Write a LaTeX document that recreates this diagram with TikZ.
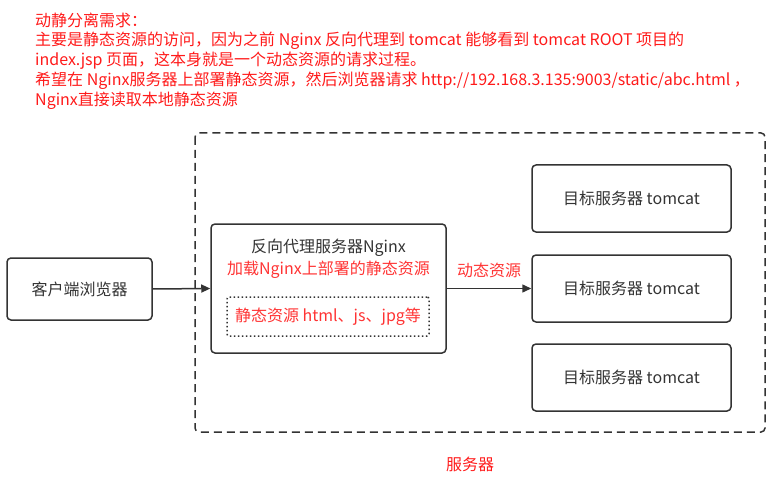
\documentclass[tikz,border=0pt]{standalone}
\usepackage{fontspec}
\setmainfont{Noto Sans CJK SC}
\usetikzlibrary{arrows.meta}
\definecolor{tred}{HTML}{FF1A1A}
\definecolor{bred}{HTML}{FF3333}
\definecolor{dgray}{HTML}{333333}
\tikzset{
  box/.style={draw=dgray, line width=1.5pt, rounded corners=4pt},
  rtext/.style={text=bred, font=\fontsize{16}{18}\selectfont, inner sep=0pt},
  gtext/.style={text=dgray, font=\fontsize{16}{18}\selectfont, inner sep=0pt},
  toptext/.style={text=tred, font=\fontsize{16}{18}\selectfont, anchor=west, inner sep=0pt},
  conn/.style={draw=dgray, line width=1.5pt, -{Triangle[length=9pt,width=8pt]}}
}
\begin{document}
\begin{tikzpicture}[x=1pt,y=-1pt]
\useasboundingbox (0,0) rectangle (775,478);
% top text
\node[toptext] (t1) at (35,20) {动静分离需求：};
\node[toptext] (t2) at (35,41) {主要是静态资源的访问，因为之前 Nginx 反向代理到 tomcat 能够看到 tomcat ROOT 项目的};
\node[toptext] (t3) at (35,61) {index.jsp 页面，这本身就是一个动态资源的请求过程。};
\node[toptext] (t4) at (35,81) {希望在 Nginx服务器上部署静态资源，然后浏览器请求 http://192.168.3.135:9003/static/abc.html ，};
\node[toptext] (t5) at (35,101) {Nginx直接读取本地静态资源};
% outer dashed server area
\draw[draw=dgray, line width=1.5pt, dash pattern=on 8pt off 5pt, rounded corners=4pt] (195,133) rectangle (765,432);
\node[rtext, text=tred] (srv) at (470,464) {服务器};
% client
\node[box, minimum width=145pt, minimum height=62pt, gtext, inner sep=0pt] (client) at (79.5,289) {客户端浏览器};
% nginx
\node[box, minimum width=235pt, minimum height=129pt] (nginx) at (328.5,288.5) {};
\node[gtext] (ntitle) at (328.5,248) {反向代理服务器Nginx};
\node[rtext] (nsub) at (328.5,270) {加载Nginx上部署的静态资源};
\node[draw=dgray, line width=1.5pt, dash pattern=on 1.5pt off 2.5pt, rounded corners=2pt, minimum width=202pt, minimum height=39pt, rtext] (static) at (328,316.5) {静态资源 html、js、jpg等};
% tomcats
\node[box, minimum width=199pt, minimum height=67pt, gtext] (tc1) at (631.5,198.5) {目标服务器 tomcat};
\node[box, minimum width=199pt, minimum height=67pt, gtext] (tc2) at (631.5,288.5) {目标服务器 tomcat};
\node[box, minimum width=199pt, minimum height=67pt, gtext] (tc3) at (631.5,377.5) {目标服务器 tomcat};
% connectors
\draw[conn] (client.east) -- (nginx.west);
\draw[conn] (nginx.east) -- node[rtext, above=10pt] (dyn) {动态资源} (tc2.west);
\end{tikzpicture}
\end{document}
